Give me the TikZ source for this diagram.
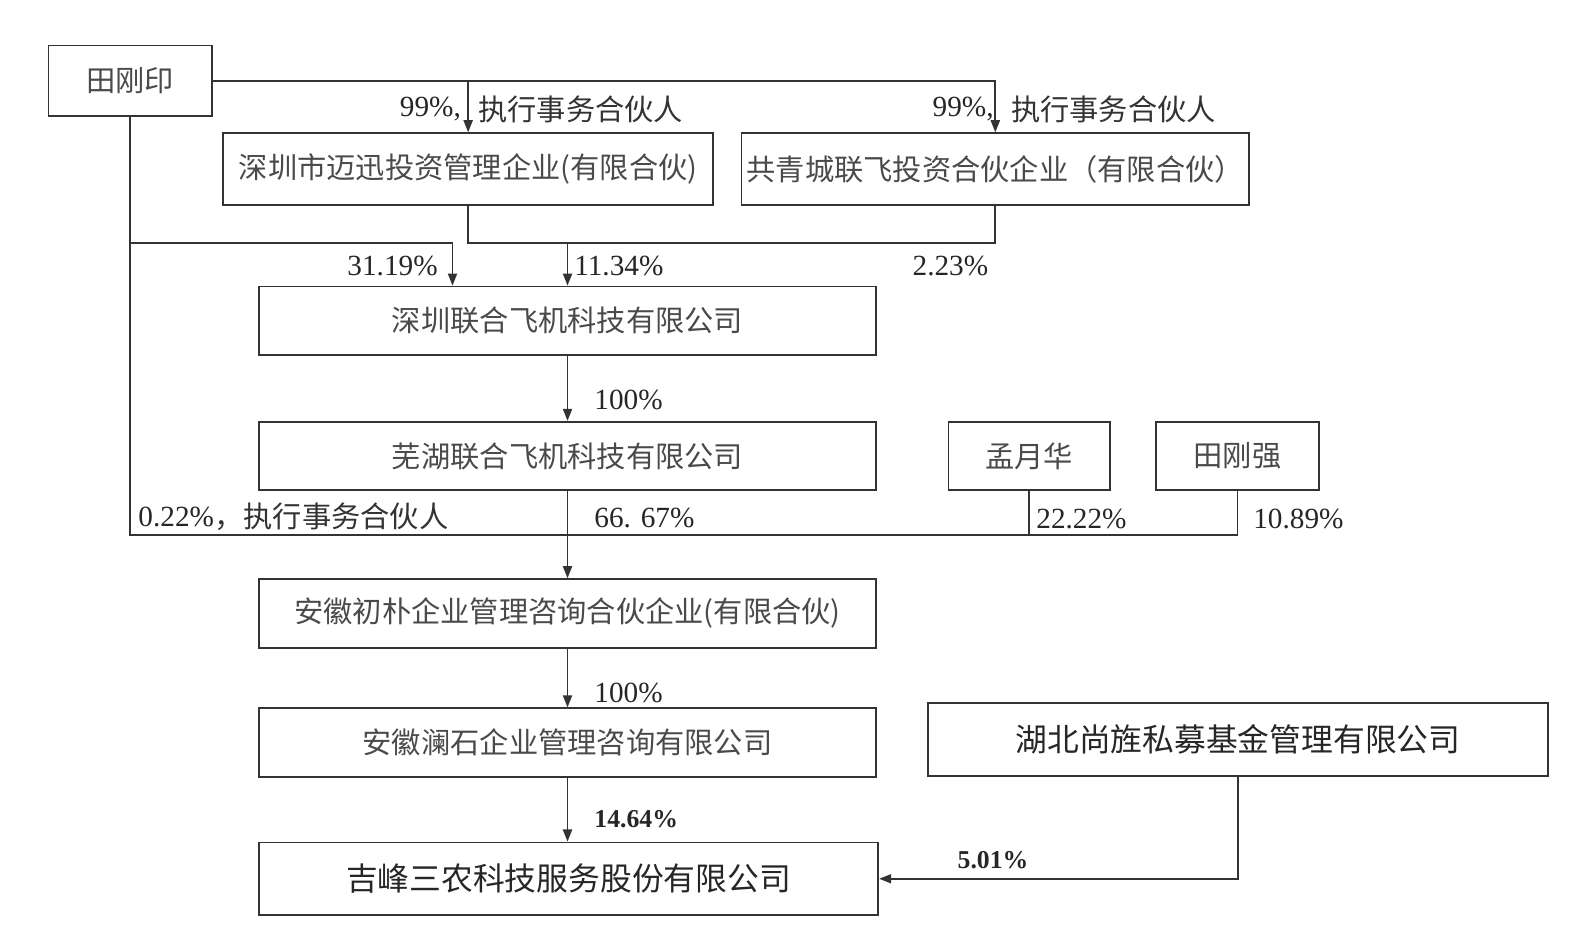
\documentclass[tikz,border=0pt]{standalone}
\usepackage{fontspec}
\setmainfont{Liberation Serif}
\newfontfamily\cjk{Noto Sans CJK SC}
\usetikzlibrary{arrows.meta,calc}
\definecolor{ln}{HTML}{303436}
\definecolor{tx}{HTML}{4A4A4A}
\begin{document}
\begin{tikzpicture}[x=1pt,y=1pt,
  box/.style={draw=ln,line width=1.7pt,minimum width=#1,inner sep=0pt,text=tx,
    font=\cjk\fontsize{29}{32}\selectfont},
  bigbox/.style={draw=ln,line width=1.7pt,minimum width=#1,minimum height=72pt,inner sep=0pt,text=black!85,
    font=\cjk\fontsize{31.5}{34}\selectfont},
  con/.style={draw=ln,line width=1.8pt},
  arr/.style={con,-{Triangle[width=9pt,length=12pt]}},
  pct/.style={inner sep=0pt,text=black!85,font=\fontsize{29}{32}\selectfont},
  bpct/.style={inner sep=0pt,text=black!85,font=\bfseries\fontsize{25.5}{28}\selectfont},
  cjl/.style={inner sep=0pt,text=black!80,font=\cjk\fontsize{29}{32}\selectfont}]
\useasboundingbox (0,0) rectangle (1568,-941);
% nodes
\node[box=162pt,minimum height=70pt] (tgy) at (129,-80) {田刚印};
\node[box=486pt,minimum height=71pt] (mx) at (464,-167.5) {深圳市迈迅投资管理企业(有限合伙)};
\node[box=503pt,minimum height=71pt] (gqc) at (986.5,-167.5) {共青城联飞投资合伙企业（有限合伙）};
\node[box=612pt,minimum height=68pt] (szlh) at (562.5,-318) {深圳联合飞机科技有限公司};
\node[box=612pt,minimum height=68pt] (whlh) at (562.5,-452) {芜湖联合飞机科技有限公司};
\node[box=160pt,minimum height=68pt] (myh) at (1020,-452) {孟月华};
\node[box=161pt,minimum height=68pt] (tgq) at (1226.5,-452) {田刚强};
\node[box=612pt,minimum height=68pt] (ahcp) at (562.5,-608) {安徽初朴企业管理咨询合伙企业(有限合伙)};
\node[box=612pt,minimum height=68pt] (ahls) at (562.5,-736) {安徽澜石企业管理咨询有限公司};
\node[bigbox=614pt] (jf) at (563.5,-871) {吉峰三农科技服务股份有限公司};
\node[bigbox=614pt] (hb) at (1227,-733) {湖北尚旌私募基金管理有限公司};
% helper coordinates
\coordinate (bus) at (0,-530);
\coordinate (mid) at (0,-241);
\path (szlh.north) ++(-114,0) coordinate (szin);
% connectors
\draw[arr] (tgy.east) -| (gqc.north);
\draw[arr] (mx.north |- tgy.east) -- (mx.north);
\draw[con] (tgy.south) -- (tgy.south |- bus) -- (tgq.south |- bus) -- (tgq.south);
\draw[con] (myh.south) -- (myh.south |- bus);
\draw[arr] (tgy.south |- mid) -| (szin);
\draw[con] (mx.south) -- (mx.south |- mid) -| (gqc.south);
\draw[arr] (szlh.north |- mid) -- (szlh.north);
\draw[arr] (szlh.south) -- (whlh.north);
\draw[arr] (whlh.south) -- (ahcp.north);
\draw[arr] (ahcp.south) -- (ahls.north);
\draw[arr] (ahls.south) -- (ahls.south |- jf.north);
\draw[arr] (hb.south) |- (jf.east);
% labels
\node[pct,anchor=east] (l1a) at (457,-108) {99\%,};
\node[cjl,anchor=west] (l1b) at (474,-108) {执行事务合伙人};
\node[pct,anchor=east] (l2a) at (985,-108) {99\%,};
\node[cjl,anchor=west] (l2b) at (1002,-108) {执行事务合伙人};
\node[pct,anchor=east] (l3) at (434,-264) {31.19\%};
\node[pct,anchor=west] (l4) at (569,-264) {11.34\%};
\node[pct] (l5) at (942,-264) {2.23\%};
\node[pct,anchor=west] (l6) at (589,-396) {100\%};
\node[pct,anchor=west] (l7a) at (137,-512) {0.22\%};
\node[cjl,anchor=west] (l7b) at (l7a.east) {，执行事务合伙人};
\node[pct,anchor=west] (l8) at (589,-513) {66. 67\%};
\node[pct,anchor=west] (l9) at (1027,-514) {22.22\%};
\node[pct,anchor=west] (l10) at (1242,-514) {10.89\%};
\node[pct,anchor=west] (l11) at (589,-687) {100\%};
\node[bpct,anchor=west] (l12) at (589,-812) {14.64\%};
\node[bpct,anchor=west] (l13) at (949,-853) {5.01\%};
\end{tikzpicture}
\end{document}
